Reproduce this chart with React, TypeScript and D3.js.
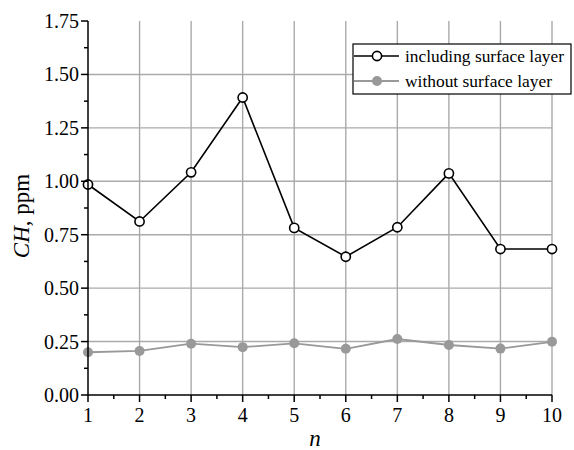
import React from 'react';
import * as d3 from 'd3';

const nValues = [1, 2, 3, 4, 5, 6, 7, 8, 9, 10];
const withLayer = [0.985, 0.812, 1.042, 1.392, 0.782, 0.647, 0.785, 1.037, 0.683, 0.683];
const withoutLayer = [0.2, 0.206, 0.24, 0.224, 0.242, 0.216, 0.262, 0.234, 0.217, 0.249];
const yTicks = [0, 0.25, 0.5, 0.75, 1.0, 1.25, 1.5, 1.75];
const seriesNames = ['including surface layer', 'without surface layer'];

const W = 574;
const H = 450;
const margin = { top: 21, right: 22, bottom: 55, left: 88 };
const GRAY = '#999999';
const GRID = '#aaaaaa';
const FONT = '"Liberation Serif", "Times New Roman", serif';

export default function App() {
  const x = d3.scaleLinear().domain([1, 10]).range([margin.left, W - margin.right]);
  const y = d3.scaleLinear().domain([0, 1.75]).range([H - margin.bottom, margin.top]);

  const line = d3.line<number>()
    .x((d, i) => x(nValues[i]))
    .y(d => y(d));

  const minorX = d3.range(1.5, 10, 1);
  const minorY = d3.range(0.125, 1.75, 0.25);
  const y0 = y(0);
  const x0 = x(1);

  return (
    <svg width={W} height={H} style={{ position: 'absolute', left: 0, top: 0, background: '#fff' }}
      fontFamily={FONT}>
      {/* grid */}
      {nValues.slice(1).map(n => (
        <line key={'gx' + n} x1={x(n)} x2={x(n)} y1={y0} y2={y(1.75)} stroke={GRID} strokeWidth={1.4} />
      ))}
      {yTicks.slice(1, -1).map(t => (
        <line key={'gy' + t} x1={x0} x2={x(10)} y1={y(t)} y2={y(t)} stroke={GRID} strokeWidth={1.4} />
      ))}

      {/* series */}
      <path d={line(withoutLayer) || ''} fill="none" stroke={GRAY} strokeWidth={1.8} />
      {withoutLayer.map((v, i) => (
        <circle key={'b' + i} cx={x(nValues[i])} cy={y(v)} r={5} fill={GRAY} />
      ))}
      <path d={line(withLayer) || ''} fill="none" stroke="#000" strokeWidth={1.6} />
      {withLayer.map((v, i) => (
        <circle key={'a' + i} cx={x(nValues[i])} cy={y(v)} r={4.6} fill="#fff" stroke="#000" strokeWidth={1.6} />
      ))}

      {/* axes */}
      <line x1={x0} x2={x0} y1={y(1.75)} y2={y0} stroke="#000" strokeWidth={1.5} />
      <line x1={x0} x2={x(10)} y1={y0} y2={y0} stroke="#000" strokeWidth={1.5} />
      {yTicks.map(t => (
        <g key={'yt' + t}>
          <line x1={x0 - 7} x2={x0} y1={y(t)} y2={y(t)} stroke="#000" strokeWidth={1.5} />
          <text x={x0 - 9} y={y(t)} dy="0.35em" textAnchor="end" fontSize={20}>{t.toFixed(2)}</text>
        </g>
      ))}
      {minorY.map(t => (
        <line key={'my' + t} x1={x0 - 4} x2={x0} y1={y(t)} y2={y(t)} stroke="#000" strokeWidth={1.5} />
      ))}
      {nValues.map(n => (
        <g key={'xt' + n}>
          <line x1={x(n)} x2={x(n)} y1={y0} y2={y0 + 7} stroke="#000" strokeWidth={1.5} />
          <text x={x(n)} y={y0 + 27} textAnchor="middle" fontSize={20}>{n}</text>
        </g>
      ))}
      {minorX.map(n => (
        <line key={'mx' + n} x1={x(n)} x2={x(n)} y1={y0} y2={y0 + 4} stroke="#000" strokeWidth={1.5} />
      ))}

      {/* axis titles */}
      <text x={315} y={446} textAnchor="middle" fontSize={23} fontStyle="italic">n</text>
      <text transform={`translate(29, 216) rotate(-90)`} textAnchor="middle" fontSize={23}>
        <tspan fontStyle="italic">CH</tspan>, ppm
      </text>

      {/* legend */}
      <g>
        <rect x={353} y={44} width={218} height={50} fill="#fff" stroke="#000" strokeWidth={1.2} />
        <line x1={354} x2={399} y1={56} y2={56} stroke="#000" strokeWidth={1.6} />
        <circle cx={377} cy={56} r={4.6} fill="#fff" stroke="#000" strokeWidth={1.6} />
        <text x={405} y={56} dy="0.33em" fontSize={17} textLength={159} lengthAdjust="spacingAndGlyphs">{seriesNames[0]}</text>
        <line x1={354} x2={399} y1={81} y2={81} stroke={GRAY} strokeWidth={1.8} />
        <circle cx={377} cy={81} r={5} fill={GRAY} />
        <text x={405} y={81} dy="0.33em" fontSize={17} textLength={147} lengthAdjust="spacingAndGlyphs">{seriesNames[1]}</text>
      </g>
    </svg>
  );
}
